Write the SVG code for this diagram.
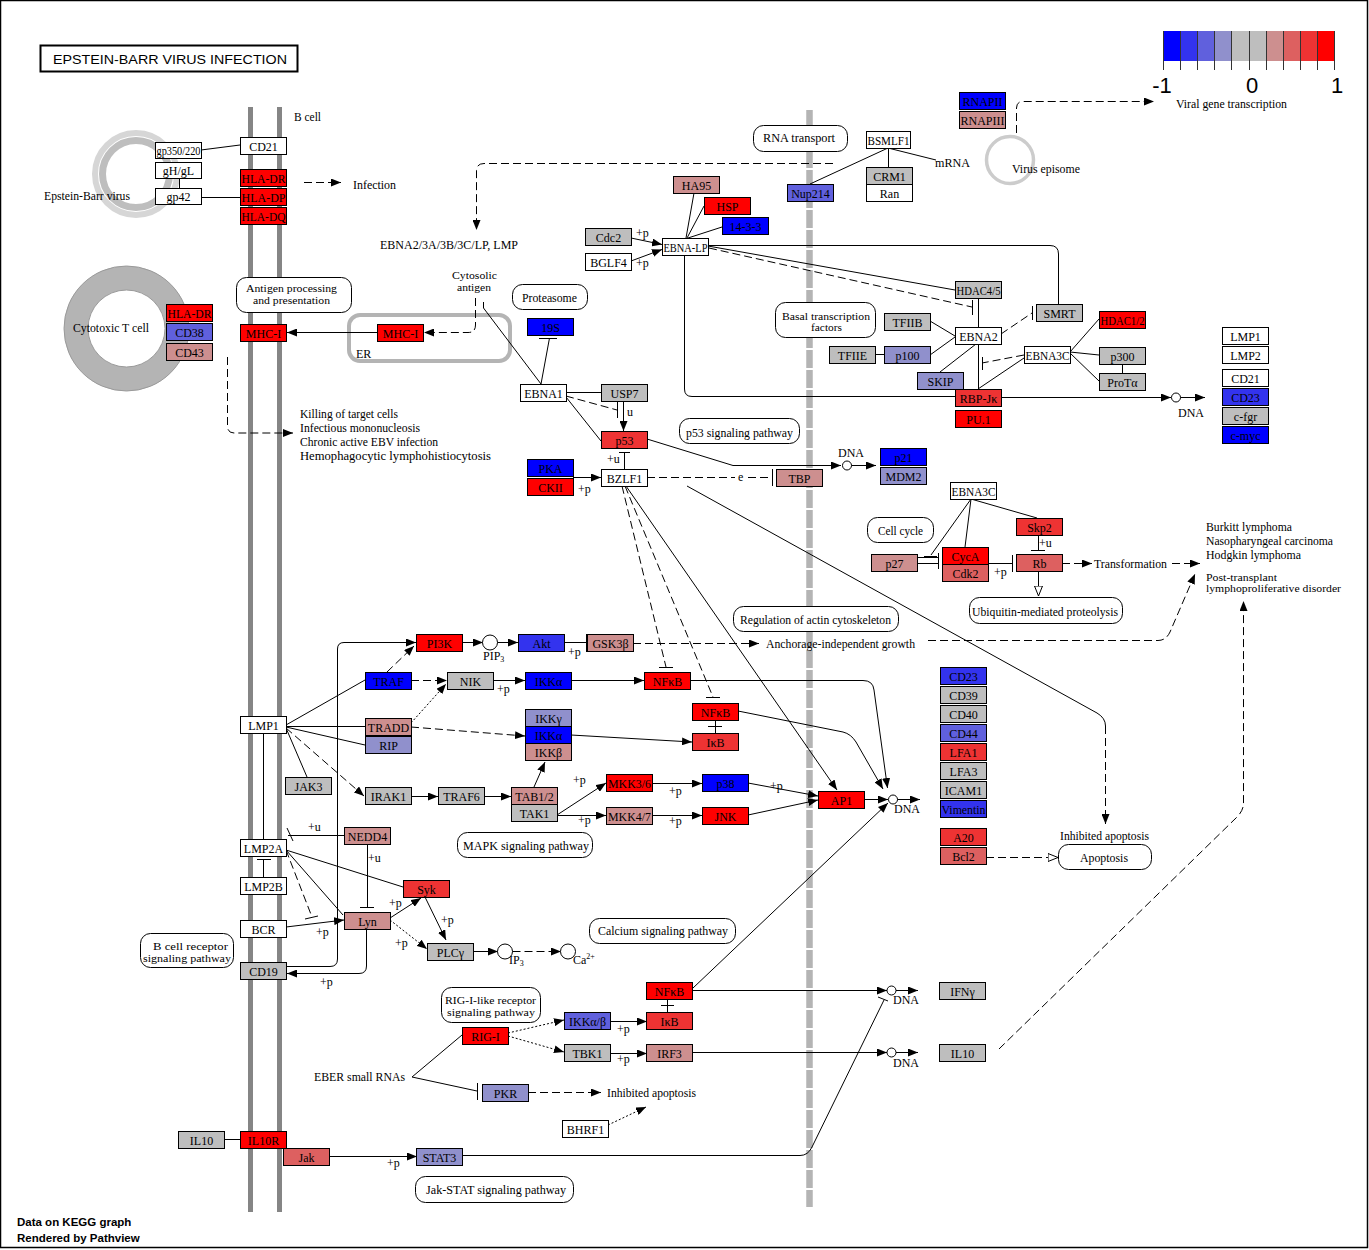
<svg xmlns="http://www.w3.org/2000/svg" width="1369" height="1250" viewBox="0 0 1369 1250">
<defs>
<style>
.nd rect{stroke:#000;stroke-width:1}
.nd text{font-family:"Liberation Serif",serif;font-size:12px;text-anchor:middle;fill:#000}
.w{fill:#fff}.g{fill:#BEBEBE}.b1{fill:#0000FF}.b2{fill:#3333EE}.b3{fill:#6060DD}.b4{fill:#9090CC}.r4{fill:#CD8F8F}.r3{fill:#DD6060}.r2{fill:#EE3333}.r1{fill:#FF0000}
.lb{font-family:"Liberation Serif",serif;font-size:12px;fill:#000}
.sm{font-size:10.5px}
.pw rect{fill:#fff;stroke:#000;stroke-width:1}
.pw text{font-family:"Liberation Serif",serif;font-size:12px;fill:#000}
.pw text.sm{font-size:10.5px}
#connectors path{fill:none;stroke:#000;stroke-width:1}
#connectors .ds{stroke-dasharray:8 4}
#connectors .dt{stroke-dasharray:2 2}
.cir{fill:#fff;stroke:#000;stroke-width:1}
.lg{font-family:"Liberation Sans",Arial,sans-serif;font-size:22px;text-anchor:middle;fill:#000}
.ft{font-family:"Liberation Sans",Arial,sans-serif;font-size:11.5px;font-weight:bold;fill:#000}
</style>
<marker id="a" markerUnits="userSpaceOnUse" viewBox="0 0 10 8" markerWidth="10" markerHeight="8" refX="10" refY="4" orient="auto"><path d="M0,0L10,4L0,8z" fill="#000"/></marker>
<marker id="h" markerUnits="userSpaceOnUse" viewBox="0 0 11 9" markerWidth="11" markerHeight="9" refX="10.5" refY="4.5" orient="auto"><path d="M0.5,0.5L10.5,4.5L0.5,8.5z" fill="#fff" stroke="#000" stroke-width="1"/></marker>
</defs>
<rect x="0" y="0" width="1369" height="1250" fill="#fff"/>
<rect x="0.5" y="0.5" width="1367" height="1247" fill="none" stroke="#000" stroke-width="1.5"/>

<g id="background">
<rect x="40.5" y="45.5" width="257" height="26" fill="#fff" stroke="#000" stroke-width="2"/>
<text x="53" y="64" font-family="Liberation Sans, Arial, sans-serif" font-size="13" textLength="234" lengthAdjust="spacingAndGlyphs">EPSTEIN-BARR  VIRUS  INFECTION</text>
<line x1="250.5" y1="107" x2="250.5" y2="1212" stroke="#858585" stroke-width="5"/>
<line x1="279.5" y1="107" x2="279.5" y2="1212" stroke="#858585" stroke-width="5"/>
<line x1="809.5" y1="110" x2="809.5" y2="1207" stroke="#B4B4B4" stroke-width="6.5" stroke-dasharray="18 2"/>
<circle cx="136" cy="174" r="41" fill="none" stroke="#D6D6D6" stroke-width="6"/>
<circle cx="136" cy="174" r="33.5" fill="none" stroke="#BEBEBE" stroke-width="7"/>
<circle cx="126.5" cy="328.5" r="50.5" fill="none" stroke="#B4B4B4" stroke-width="24"/>
<circle cx="126.5" cy="328.5" r="62.5" fill="none" stroke="#9A9A9A" stroke-width="1"/>
<circle cx="126.5" cy="328.5" r="38.5" fill="none" stroke="#9A9A9A" stroke-width="1"/>
<circle cx="1010" cy="160" r="23.5" fill="none" stroke="#CCCCCC" stroke-width="3.5"/>
<rect x="349" y="315" width="161" height="46" rx="11" fill="none" stroke="#B4B4B4" stroke-width="4"/>
</g>

<g id="legend">
<rect x="1163" y="31" width="17.2" height="30" fill="#0000FF"/>
<rect x="1180.2" y="31" width="17.2" height="30" fill="#3333EE"/>
<rect x="1197.4" y="31" width="17.2" height="30" fill="#6060DD"/>
<rect x="1214.6" y="31" width="17.2" height="30" fill="#9090CC"/>
<rect x="1231.8" y="31" width="17.2" height="30" fill="#BEBEBE"/>
<rect x="1249" y="31" width="17.2" height="30" fill="#BEBEBE"/>
<rect x="1266.2" y="31" width="17.2" height="30" fill="#CD8F8F"/>
<rect x="1283.4" y="31" width="17.2" height="30" fill="#DD6060"/>
<rect x="1300.6" y="31" width="17.2" height="30" fill="#EE3333"/>
<rect x="1317.8" y="31" width="17.2" height="30" fill="#FF0000"/>
<path d="M1163.5 31V70M1180.5 31V70M1197.5 31V70M1214.5 31V70M1231.5 31V70M1249.5 31V70M1266.5 31V70M1283.5 31V70M1300.5 31V70M1317.5 31V70M1334.5 31V70" stroke="#333" stroke-width="1" fill="none"/>
<text class="lg" x="1162" y="93">-1</text>
<text class="lg" x="1252" y="93">0</text>
<text class="lg" x="1337" y="93">1</text>
</g>

<g id="labels">
<text class="lb" x="294" y="121" textLength="27" lengthAdjust="spacingAndGlyphs">B cell</text>
<text class="lb" x="353" y="189" textLength="43" lengthAdjust="spacingAndGlyphs">Infection</text>
<text class="lb" x="44" y="200" textLength="86" lengthAdjust="spacingAndGlyphs">Epstein-Barr virus</text>
<text class="lb" x="73" y="332" textLength="76" lengthAdjust="spacingAndGlyphs">Cytotoxic T cell</text>
<text class="lb" x="356" y="358">ER</text>
<text class="lb" x="300" y="418" textLength="98" lengthAdjust="spacingAndGlyphs">Killing of target cells</text>
<text class="lb" x="300" y="432" textLength="120" lengthAdjust="spacingAndGlyphs">Infectious mononucleosis</text>
<text class="lb" x="300" y="446" textLength="138" lengthAdjust="spacingAndGlyphs">Chronic active EBV infection</text>
<text class="lb" x="300" y="460" textLength="191" lengthAdjust="spacingAndGlyphs">Hemophagocytic lymphohistiocytosis</text>
<text class="lb" x="380" y="249" textLength="138" lengthAdjust="spacingAndGlyphs">EBNA2/3A/3B/3C/LP, LMP</text>
<text class="lb sm" x="452" y="279" textLength="45" lengthAdjust="spacingAndGlyphs">Cytosolic</text>
<text class="lb sm" x="457" y="290.5" textLength="34" lengthAdjust="spacingAndGlyphs">antigen</text>
<text class="lb" x="935" y="167" textLength="35" lengthAdjust="spacingAndGlyphs">mRNA</text>
<text class="lb" x="1012" y="173" textLength="68" lengthAdjust="spacingAndGlyphs">Virus episome</text>
<text class="lb" x="1176" y="108" font-size="11" textLength="111" lengthAdjust="spacingAndGlyphs">Viral gene transcription</text>
<text class="lb" x="838" y="457" textLength="26" lengthAdjust="spacingAndGlyphs">DNA</text>
<text class="lb" x="1178" y="417" textLength="26" lengthAdjust="spacingAndGlyphs">DNA</text>
<text class="lb" x="894" y="813" textLength="26" lengthAdjust="spacingAndGlyphs">DNA</text>
<text class="lb" x="893" y="1004" textLength="26" lengthAdjust="spacingAndGlyphs">DNA</text>
<text class="lb" x="893" y="1067" textLength="26" lengthAdjust="spacingAndGlyphs">DNA</text>
<text class="lb" x="766" y="648" textLength="149" lengthAdjust="spacingAndGlyphs">Anchorage-independent growth</text>
<text class="lb" x="1094" y="568" textLength="73" lengthAdjust="spacingAndGlyphs">Transformation</text>
<text class="lb" x="1206" y="531" textLength="86" lengthAdjust="spacingAndGlyphs">Burkitt lymphoma</text>
<text class="lb" x="1206" y="545" textLength="127" lengthAdjust="spacingAndGlyphs">Nasopharyngeal carcinoma</text>
<text class="lb" x="1206" y="559" textLength="95" lengthAdjust="spacingAndGlyphs">Hodgkin lymphoma</text>
<text class="lb sm" x="1206" y="580.5" textLength="71" lengthAdjust="spacingAndGlyphs">Post-transplant</text>
<text class="lb sm" x="1206" y="592" textLength="135" lengthAdjust="spacingAndGlyphs">lymphoproliferative disorder</text>
<text class="lb" x="1060" y="840" textLength="89" lengthAdjust="spacingAndGlyphs">Inhibited apoptosis</text>
<text class="lb" x="314" y="1081" textLength="91" lengthAdjust="spacingAndGlyphs">EBER small RNAs</text>
<text class="lb" x="607" y="1097" textLength="89" lengthAdjust="spacingAndGlyphs">Inhibited apoptosis</text>
<text class="lb" x="483" y="660">PIP<tspan font-size="8" dy="2">3</tspan></text>
<text class="lb" x="509" y="964">IP<tspan font-size="8" dy="2">3</tspan></text>
<text class="lb" x="573" y="964">Ca<tspan font-size="8" dy="-5">2+</tspan></text>
<text class="ft" x="17" y="1226">Data on KEGG graph</text>
<text class="ft" x="17" y="1242">Rendered by Pathview</text>
</g>

<g id="pathways" class="pw">
<g id="p_antigen"><rect x="236.5" y="277.5" width="115" height="35" rx="10"/><text class="sm" x="246" y="292" textLength="91" lengthAdjust="spacingAndGlyphs">Antigen processing</text><text class="sm" x="253" y="304" textLength="77" lengthAdjust="spacingAndGlyphs">and presentation</text></g>
<g id="p_proteasome"><rect x="512.5" y="284.5" width="75" height="25" rx="10"/><text x="522" y="302" textLength="55" lengthAdjust="spacingAndGlyphs">Proteasome</text></g>
<g id="p_rna"><rect x="753.5" y="125.5" width="94" height="26" rx="10"/><text x="763" y="142" textLength="72" lengthAdjust="spacingAndGlyphs">RNA transport</text></g>
<g id="p_basal"><rect x="775.5" y="302.5" width="100" height="35" rx="10"/><text class="sm" x="782" y="319.5" textLength="88" lengthAdjust="spacingAndGlyphs">Basal transcription</text><text class="sm" x="811" y="331" textLength="31" lengthAdjust="spacingAndGlyphs">factors</text></g>
<g id="p_p53"><rect x="679.5" y="418.5" width="120" height="25" rx="10"/><text x="686" y="436.5" textLength="107" lengthAdjust="spacingAndGlyphs">p53 signaling pathway</text></g>
<g id="p_cellcycle"><rect x="867.5" y="517.5" width="66" height="25" rx="10"/><text x="878" y="535" textLength="45" lengthAdjust="spacingAndGlyphs">Cell cycle</text></g>
<g id="p_ubiq"><rect x="969.5" y="597.5" width="153" height="26" rx="10"/><text x="972" y="616" textLength="146" lengthAdjust="spacingAndGlyphs">Ubiquitin-mediated proteolysis</text></g>
<g id="p_actin"><rect x="733.5" y="606.5" width="165" height="25" rx="10"/><text x="740" y="623.5" textLength="151" lengthAdjust="spacingAndGlyphs">Regulation of actin cytoskeleton</text></g>
<g id="p_mapk"><rect x="457.5" y="832.5" width="135" height="25" rx="10"/><text x="463" y="849.5" textLength="126" lengthAdjust="spacingAndGlyphs">MAPK signaling pathway</text></g>
<g id="p_calcium"><rect x="589.5" y="918.5" width="146" height="25" rx="10"/><text x="598" y="935" textLength="130" lengthAdjust="spacingAndGlyphs">Calcium signaling pathway</text></g>
<g id="p_bcr"><rect x="140.5" y="933.5" width="93" height="34" rx="10"/><text class="sm" x="153" y="949.5" textLength="75" lengthAdjust="spacingAndGlyphs">B cell receptor</text><text class="sm" x="143" y="961.5" textLength="88" lengthAdjust="spacingAndGlyphs">signaling pathway</text></g>
<g id="p_rig"><rect x="441.5" y="987.5" width="99" height="35" rx="10"/><text class="sm" x="445" y="1003.5" textLength="91" lengthAdjust="spacingAndGlyphs">RIG-I-like receptor</text><text class="sm" x="447" y="1015.5" textLength="88" lengthAdjust="spacingAndGlyphs">signaling pathway</text></g>
<g id="p_jakstat"><rect x="415.5" y="1176.5" width="158" height="26" rx="10"/><text x="426" y="1194" textLength="140" lengthAdjust="spacingAndGlyphs">Jak-STAT signaling pathway</text></g>
<g id="p_apoptosis"><rect x="1058.5" y="844.5" width="93" height="25" rx="10"/><text x="1080" y="862" textLength="48" lengthAdjust="spacingAndGlyphs">Apoptosis</text></g>
</g>

<g id="connectors">
<path d="M201 150L240 145"/>
<path d="M179.5 178V188"/>
<path d="M201 197.5H240"/>
<path class="ds" d="M304 182.5H341" marker-end="url(#a)"/>
<path class="ds" d="M227.5 357V426Q227.5 433 234 433H293" marker-end="url(#a)"/>
<path d="M377 332.5H287" marker-end="url(#a)"/>
<path class="ds" d="M475.5 298V325Q475.5 332.5 468 332.5H424" marker-end="url(#a)"/>
<path d="M483.5 302V308L541 384"/>
<path class="ds" d="M833 163.5H484Q476.5 163.5 476.5 171V230" marker-end="url(#a)"/>
<path d="M888.5 148V167"/>
<path d="M888 148L810 184"/>
<path d="M888 148L936 160"/>
<path class="ds" d="M1016.5 133V108Q1016.5 101.5 1023 101.5H1154" marker-end="url(#a)"/>
<path d="M694 193L686 238"/>
<path d="M704 206L687 238"/>
<path d="M722 227L688 238"/>
<path d="M631 238L662 244.5" marker-end="url(#a)"/>
<path d="M631 261L662 249.5" marker-end="url(#a)"/>
<path d="M708 245.5H1050Q1058.5 245.5 1058.5 254V304"/>
<path d="M708 246L955 290"/>
<path class="ds" d="M709 248L972 307"/>
<path d="M972.5 300V315"/>
<path d="M684.5 255V389Q684.5 396.5 692 396.5H955"/>
<path d="M541 384L549.5 338"/>
<path d="M539 338.5H557"/>
<path d="M566 392.5H601"/>
<path class="ds" d="M566 396L617 410"/>
<path d="M617.5 401V418"/>
<path d="M623.5 401V431" marker-end="url(#a)"/>
<path d="M566 397L601 441"/>
<path d="M647 439L733 465.5H841" marker-end="url(#a)"/>
<circle class="cir" cx="847" cy="465.5" r="4.5"/>
<path d="M851.5 465.5H876" marker-end="url(#a)"/>
<path d="M624.5 469V452"/>
<path d="M619 452.5H630"/>
<path d="M573 477.5H601" marker-end="url(#a)"/>
<path class="ds" d="M647 477.5H735"/>
<path class="ds" d="M748 477.5H772"/>
<path d="M772.5 469V486"/>
<path d="M687 486L1097 713Q1105.5 718 1105.5 726"/>
<path class="ds" d="M1105.5 726V824" marker-end="url(#a)"/>
<path d="M978.5 298V327"/>
<path d="M930 321L955 336"/>
<path d="M875 354.5H884"/>
<path d="M930 355L955 337"/>
<path d="M940 372L976 344"/>
<path d="M978.5 344V389"/>
<path class="ds" d="M1024 355L982 363"/>
<path d="M982.5 357V370"/>
<path class="ds" d="M1001 334L1032 313"/>
<path d="M1032.5 306V320"/>
<path d="M1024 358L978 389"/>
<path d="M1070 352L1099 319"/>
<path d="M1070 352L1099 355"/>
<path d="M1070 353L1099 381"/>
<path d="M1122.5 364V373"/>
<path d="M1001 397.5H1171" marker-end="url(#a)"/>
<circle class="cir" cx="1176" cy="397.5" r="4.5"/>
<path d="M1180.5 397.5H1205" marker-end="url(#a)"/>
<path d="M971 499L965 547"/>
<path d="M971 499L1037 518"/>
<path d="M971 499L931 555"/>
<path d="M924 556.5H937"/>
<path d="M917 557.5H938M917 563.5H938"/>
<path d="M938.5 553V569"/>
<path d="M1038.5 535V550"/>
<path d="M1031 550.5H1045"/>
<path d="M988 563.5H1012"/>
<path d="M1012.5 555V572"/>
<path class="ds" d="M1062 563.5H1092" marker-end="url(#a)"/>
<path class="ds" d="M1172 563.5H1200" marker-end="url(#a)"/>
<path d="M1038.5 571V596" marker-end="url(#h)"/>
<path class="ds" d="M633 643.5H759" marker-end="url(#a)"/>
<path class="ds" d="M928 640.5H1158Q1166 640.5 1170 632L1195 574" marker-end="url(#a)"/>
<path class="ds" d="M999 1049L1236 818Q1243.5 811 1243.5 803V601" marker-end="url(#a)"/>
<path d="M462 642.5H483" marker-end="url(#a)"/>
<circle class="cir" cx="490" cy="642.5" r="7.5"/>
<path d="M497.5 642.5H518" marker-end="url(#a)"/>
<path d="M564 642.5H586"/>
<path d="M586.5 634V652"/>
<path class="ds" d="M387 672L414 646" marker-end="url(#a)"/>
<path d="M286 966.5H330Q337.5 966.5 337.5 959V649Q337.5 642.5 344 642.5H416" marker-end="url(#a)"/>
<path d="M366.5 929V966Q366.5 973.5 359 973.5H287" marker-end="url(#a)"/>
<path d="M286 725L365 680"/>
<path d="M286 726.5H365"/>
<path d="M286 727L365 745"/>
<path d="M286 728L307 777"/>
<path class="ds" d="M286 728L364 796" marker-end="url(#a)"/>
<path d="M263.5 733V839"/>
<path class="ds" d="M411 680.5H447" marker-end="url(#a)"/>
<path class="dt" d="M411 723L446 684" marker-end="url(#a)"/>
<path class="ds" d="M411 727L525 736" marker-end="url(#a)"/>
<path d="M493 680.5H525" marker-end="url(#a)"/>
<path d="M571 680.5H644" marker-end="url(#a)"/>
<path d="M690 680.5H863Q873 680.5 874 690L887.5 788" marker-end="url(#a)"/>
<path class="ds" d="M622 486L666 667"/>
<path d="M659 667.5H673"/>
<path class="ds" d="M625 486L713 697"/>
<path d="M706 697.5H720"/>
<path d="M626 486L837 790" marker-end="url(#a)"/>
<path d="M715.5 720V733"/>
<path d="M708 726.5H722"/>
<path d="M571 735L692 742" marker-end="url(#a)"/>
<path d="M738 711L843 732Q851 734 856 742L883 789" marker-end="url(#a)"/>
<path d="M411 796.5H438" marker-end="url(#a)"/>
<path d="M484 796.5H511" marker-end="url(#a)"/>
<path d="M534 787L545 762" marker-end="url(#a)"/>
<path d="M557 815L606 783" marker-end="url(#a)"/>
<path d="M557 815.5H606" marker-end="url(#a)"/>
<path d="M652 783.5H702" marker-end="url(#a)"/>
<path d="M652 815.5H702" marker-end="url(#a)"/>
<path d="M748 783L818 796" marker-end="url(#a)"/>
<path d="M748 815L818 800" marker-end="url(#a)"/>
<path d="M864 799.5H888" marker-end="url(#a)"/>
<circle class="cir" cx="893" cy="799.5" r="4.5"/>
<path d="M897.5 799.5H920" marker-end="url(#a)"/>
<path d="M693 988L888 803" marker-end="url(#a)"/>
<path d="M263.5 877V859"/>
<path d="M257 859.5H271"/>
<path d="M344 835.5H288"/>
<path d="M287 828L293 841"/>
<path d="M367.5 844V907"/>
<path d="M360 907.5H374"/>
<path class="ds" d="M286 850L312 917"/>
<path d="M305 919L318 916"/>
<path d="M286 850L343 915"/>
<path d="M286 927L344 920" marker-end="url(#a)"/>
<path d="M286 850L403 887"/>
<path d="M390 918L421 898" marker-end="url(#a)"/>
<path d="M425 897L446 940" marker-end="url(#a)"/>
<path class="dt" d="M390 920L427 949" marker-end="url(#a)"/>
<path d="M473 951.5H498" marker-end="url(#a)"/>
<circle class="cir" cx="505" cy="951.5" r="7.5"/>
<path class="ds" d="M512.5 951.5H561" marker-end="url(#a)"/>
<circle class="cir" cx="568" cy="951.5" r="7.5"/>
<path class="dt" d="M508 1033L564 1020" marker-end="url(#a)"/>
<path class="dt" d="M508 1036L564 1052" marker-end="url(#a)"/>
<path d="M610 1021.5H647" marker-end="url(#a)"/>
<path d="M610 1053.5H647" marker-end="url(#a)"/>
<path d="M667.5 998V1012"/>
<path d="M661 1005.5H674"/>
<path d="M692 990.5H887" marker-end="url(#a)"/>
<circle class="cir" cx="891.5" cy="990.5" r="4.5"/>
<path d="M896 990.5H918" marker-end="url(#a)"/>
<path d="M692 1052.5H887" marker-end="url(#a)"/>
<circle class="cir" cx="891.5" cy="1052.5" r="4.5"/>
<path d="M896 1052.5H918" marker-end="url(#a)"/>
<path d="M412 1077L462 1035"/>
<path d="M412 1077L477 1091"/>
<path d="M477.5 1083V1100"/>
<path class="ds" d="M528 1092.5H601" marker-end="url(#a)"/>
<path class="dt" d="M608 1125L646 1107" marker-end="url(#a)"/>
<path d="M224 1139.5H240"/>
<path d="M329 1156.5H417" marker-end="url(#a)"/>
<path d="M462 1155.5H800Q808 1155.5 812 1147L884 1000"/>
<path d="M878 997L888 1001"/>
<path class="ds" d="M986 857.5H1058" marker-end="url(#h)"/>
<g class="lb">
<text x="636" y="237">+p</text>
<text x="636" y="267">+p</text>
<text x="627" y="416">u</text>
<text x="607" y="463">+u</text>
<text x="578" y="493">+p</text>
<text x="738" y="481">e</text>
<text x="1039" y="547">+u</text>
<text x="994" y="576">+p</text>
<text x="568" y="656">+p</text>
<text x="497" y="693">+p</text>
<text x="308" y="831">+u</text>
<text x="368" y="862">+u</text>
<text x="573" y="784">+p</text>
<text x="578" y="824">+p</text>
<text x="669" y="795">+p</text>
<text x="669" y="825">+p</text>
<text x="770" y="790">+p</text>
<text x="316" y="936">+p</text>
<text x="389" y="907">+p</text>
<text x="441" y="924">+p</text>
<text x="395" y="947">+p</text>
<text x="320" y="986">+p</text>
<text x="617" y="1033">+p</text>
<text x="617" y="1063">+p</text>
<text x="387" y="1167">+p</text>
</g>
</g>

<g id="nodes" class="nd">
<g id="n_gp350"><rect x="155.5" y="142.5" width="46" height="16" class="w"/><text x="178.5" y="155" textLength="44" lengthAdjust="spacingAndGlyphs">gp350/220</text></g>
<g id="n_gHgL"><rect x="155.5" y="162.5" width="46" height="16" class="w"/><text x="178.5" y="175">gH/gL</text></g>
<g id="n_gp42"><rect x="155.5" y="188.5" width="46" height="16" class="w"/><text x="178.5" y="201">gp42</text></g>
<g id="n_CD21_a"><rect x="240.5" y="137.5" width="46" height="17" class="w"/><text x="263.5" y="150.5">CD21</text></g>
<g id="n_HLA-DR_a"><rect x="240.5" y="169.5" width="46" height="17" class="r1"/><text x="263.5" y="182.5" textLength="44" lengthAdjust="spacingAndGlyphs">HLA-DR</text></g>
<g id="n_HLA-DP"><rect x="240.5" y="188.5" width="46" height="17" class="r1"/><text x="263.5" y="201.5" textLength="44" lengthAdjust="spacingAndGlyphs">HLA-DP</text></g>
<g id="n_HLA-DQ"><rect x="240.5" y="207.5" width="46" height="17" class="r1"/><text x="263.5" y="220.5" textLength="44" lengthAdjust="spacingAndGlyphs">HLA-DQ</text></g>
<g id="n_HLA-DR_b"><rect x="166.5" y="304.5" width="46" height="17" class="r1"/><text x="189.5" y="317.5" textLength="44" lengthAdjust="spacingAndGlyphs">HLA-DR</text></g>
<g id="n_CD38"><rect x="166.5" y="323.5" width="46" height="17" class="b3"/><text x="189.5" y="336.5">CD38</text></g>
<g id="n_CD43"><rect x="166.5" y="343.5" width="46" height="17" class="r4"/><text x="189.5" y="356.5">CD43</text></g>
<g id="n_MHC-I_a"><rect x="240.5" y="324.5" width="46" height="17" class="r1"/><text x="263.5" y="337.5">MHC-I</text></g>
<g id="n_MHC-I_b"><rect x="377.5" y="324.5" width="46" height="17" class="r1"/><text x="400.5" y="337.5">MHC-I</text></g>
<g id="n_RNAPII"><rect x="959.5" y="92.5" width="46" height="17" class="b1"/><text x="982.5" y="105.5">RNAPII</text></g>
<g id="n_RNAPIII"><rect x="959.5" y="111.5" width="46" height="17" class="r4"/><text x="982.5" y="124.5" textLength="44" lengthAdjust="spacingAndGlyphs">RNAPIII</text></g>
<g id="n_BSMLF1"><rect x="866.5" y="131.5" width="44" height="17" class="w"/><text x="888.5" y="144.5" textLength="42" lengthAdjust="spacingAndGlyphs">BSMLF1</text></g>
<g id="n_CRM1"><rect x="866.5" y="167.5" width="46" height="17" class="g"/><text x="889.5" y="180.5">CRM1</text></g>
<g id="n_Ran"><rect x="866.5" y="184.5" width="46" height="17" class="w"/><text x="889.5" y="197.5">Ran</text></g>
<g id="n_Nup214"><rect x="787.5" y="184.5" width="46" height="17" class="b3"/><text x="810.5" y="197.5">Nup214</text></g>
<g id="n_HA95"><rect x="673.5" y="176.5" width="46" height="17" class="r4"/><text x="696.5" y="189.5">HA95</text></g>
<g id="n_HSP"><rect x="704.5" y="197.5" width="46" height="17" class="r1"/><text x="727.5" y="210.5">HSP</text></g>
<g id="n_14-3-3"><rect x="722.5" y="217.5" width="46" height="17" class="b1"/><text x="745.5" y="230.5">14-3-3</text></g>
<g id="n_Cdc2"><rect x="585.5" y="228.5" width="46" height="17" class="g"/><text x="608.5" y="241.5">Cdc2</text></g>
<g id="n_BGLF4"><rect x="585.5" y="253.5" width="46" height="17" class="w"/><text x="608.5" y="266.5">BGLF4</text></g>
<g id="n_EBNA-LP"><rect x="662.5" y="238.5" width="46" height="17" class="w"/><text x="685.5" y="251.5" textLength="44" lengthAdjust="spacingAndGlyphs">EBNA-LP</text></g>
<g id="n_19S"><rect x="527.5" y="318.5" width="46" height="17" class="b1"/><text x="550.5" y="331.5">19S</text></g>
<g id="n_EBNA1"><rect x="520.5" y="384.5" width="46" height="17" class="w"/><text x="543.5" y="397.5">EBNA1</text></g>
<g id="n_USP7"><rect x="601.5" y="384.5" width="46" height="17" class="g"/><text x="624.5" y="397.5">USP7</text></g>
<g id="n_p53"><rect x="601.5" y="431.5" width="46" height="17" class="r2"/><text x="624.5" y="444.5">p53</text></g>
<g id="n_PKA"><rect x="527.5" y="459.5" width="46" height="17" class="b1"/><text x="550.5" y="472.5">PKA</text></g>
<g id="n_CKII"><rect x="527.5" y="478.5" width="46" height="17" class="r1"/><text x="550.5" y="491.5">CKII</text></g>
<g id="n_BZLF1"><rect x="601.5" y="469.5" width="46" height="17" class="w"/><text x="624.5" y="482.5">BZLF1</text></g>
<g id="n_TBP"><rect x="776.5" y="469.5" width="46" height="17" class="r4"/><text x="799.5" y="482.5">TBP</text></g>
<g id="n_p21"><rect x="880.5" y="448.5" width="46" height="17" class="b1"/><text x="903.5" y="461.5">p21</text></g>
<g id="n_MDM2"><rect x="880.5" y="467.5" width="46" height="17" class="b4"/><text x="903.5" y="480.5">MDM2</text></g>
<g id="n_HDAC45"><rect x="955.5" y="281.5" width="46" height="17" class="g"/><text x="978.5" y="294.5" textLength="44" lengthAdjust="spacingAndGlyphs">HDAC4/5</text></g>
<g id="n_TFIIB"><rect x="884.5" y="313.5" width="46" height="17" class="g"/><text x="907.5" y="326.5">TFIIB</text></g>
<g id="n_TFIIE"><rect x="829.5" y="346.5" width="46" height="17" class="g"/><text x="852.5" y="359.5">TFIIE</text></g>
<g id="n_p100"><rect x="884.5" y="346.5" width="46" height="17" class="b4"/><text x="907.5" y="359.5">p100</text></g>
<g id="n_EBNA2"><rect x="955.5" y="327.5" width="46" height="17" class="w"/><text x="978.5" y="340.5">EBNA2</text></g>
<g id="n_SKIP"><rect x="917.5" y="372.5" width="46" height="17" class="b4"/><text x="940.5" y="385.5">SKIP</text></g>
<g id="n_RBPJk"><rect x="955.5" y="389.5" width="46" height="17" class="r2"/><text x="978.5" y="402.5">RBP-Jκ</text></g>
<g id="n_PU1"><rect x="955.5" y="410.5" width="46" height="17" class="r1"/><text x="978.5" y="423.5">PU.1</text></g>
<g id="n_SMRT"><rect x="1036.5" y="304.5" width="46" height="17" class="g"/><text x="1059.5" y="317.5">SMRT</text></g>
<g id="n_EBNA3C_a"><rect x="1024.5" y="346.5" width="46" height="17" class="w"/><text x="1047.5" y="359.5" textLength="44" lengthAdjust="spacingAndGlyphs">EBNA3C</text></g>
<g id="n_HDAC12"><rect x="1099.5" y="311.5" width="46" height="17" class="r1"/><text x="1122.5" y="324.5" textLength="44" lengthAdjust="spacingAndGlyphs">HDAC1/2</text></g>
<g id="n_p300"><rect x="1099.5" y="347.5" width="46" height="17" class="g"/><text x="1122.5" y="360.5">p300</text></g>
<g id="n_ProTa"><rect x="1099.5" y="373.5" width="46" height="17" class="g"/><text x="1122.5" y="386.5">ProTα</text></g>
<g id="n_LMP1_b"><rect x="1222.5" y="327.5" width="46" height="17" class="w"/><text x="1245.5" y="340.5">LMP1</text></g>
<g id="n_LMP2"><rect x="1222.5" y="346.5" width="46" height="17" class="w"/><text x="1245.5" y="359.5">LMP2</text></g>
<g id="n_CD21_b"><rect x="1222.5" y="369.5" width="46" height="17" class="w"/><text x="1245.5" y="382.5">CD21</text></g>
<g id="n_CD23_a"><rect x="1222.5" y="388.5" width="46" height="17" class="b2"/><text x="1245.5" y="401.5">CD23</text></g>
<g id="n_c-fgr"><rect x="1222.5" y="407.5" width="46" height="17" class="g"/><text x="1245.5" y="420.5">c-fgr</text></g>
<g id="n_c-myc"><rect x="1222.5" y="426.5" width="46" height="17" class="b1"/><text x="1245.5" y="439.5">c-myc</text></g>
<g id="n_EBNA3C_b"><rect x="950.5" y="482.5" width="46" height="17" class="w"/><text x="973.5" y="495.5" textLength="44" lengthAdjust="spacingAndGlyphs">EBNA3C</text></g>
<g id="n_p27"><rect x="871.5" y="554.5" width="46" height="17" class="r4"/><text x="894.5" y="567.5">p27</text></g>
<g id="n_CycA"><rect x="942.5" y="547.5" width="46" height="17" class="r1"/><text x="965.5" y="560.5">CycA</text></g>
<g id="n_Cdk2"><rect x="942.5" y="564.5" width="46" height="17" class="r3"/><text x="965.5" y="577.5">Cdk2</text></g>
<g id="n_Skp2"><rect x="1016.5" y="518.5" width="46" height="17" class="r2"/><text x="1039.5" y="531.5">Skp2</text></g>
<g id="n_Rb"><rect x="1016.5" y="554.5" width="46" height="17" class="r3"/><text x="1039.5" y="567.5">Rb</text></g>
<g id="n_PI3K"><rect x="416.5" y="634.5" width="46" height="17" class="r1"/><text x="439.5" y="647.5">PI3K</text></g>
<g id="n_Akt"><rect x="518.5" y="634.5" width="46" height="17" class="b2"/><text x="541.5" y="647.5">Akt</text></g>
<g id="n_GSK3b"><rect x="587.5" y="634.5" width="46" height="17" class="r4"/><text x="610.5" y="647.5">GSK3β</text></g>
<g id="n_TRAF"><rect x="365.5" y="672.5" width="46" height="17" class="b1"/><text x="388.5" y="685.5">TRAF</text></g>
<g id="n_NIK"><rect x="447.5" y="672.5" width="46" height="17" class="g"/><text x="470.5" y="685.5">NIK</text></g>
<g id="n_IKKa_a"><rect x="525.5" y="672.5" width="46" height="17" class="b1"/><text x="548.5" y="685.5">IKKα</text></g>
<g id="n_NFkB_a"><rect x="644.5" y="672.5" width="46" height="17" class="r1"/><text x="667.5" y="685.5">NFκB</text></g>
<g id="n_NFkB_b"><rect x="692.5" y="703.5" width="46" height="17" class="r1"/><text x="715.5" y="716.5">NFκB</text></g>
<g id="n_IkB_b"><rect x="692.5" y="733.5" width="46" height="17" class="r2"/><text x="715.5" y="746.5">IκB</text></g>
<g id="n_LMP1_a"><rect x="240.5" y="716.5" width="46" height="17" class="w"/><text x="263.5" y="729.5">LMP1</text></g>
<g id="n_TRADD"><rect x="365.5" y="718.5" width="46" height="17" class="r4"/><text x="388.5" y="731.5">TRADD</text></g>
<g id="n_RIP"><rect x="365.5" y="736.5" width="46" height="17" class="b4"/><text x="388.5" y="749.5">RIP</text></g>
<g id="n_IKKg"><rect x="525.5" y="709.5" width="46" height="17" class="b4"/><text x="548.5" y="722.5">IKKγ</text></g>
<g id="n_IKKa_b"><rect x="525.5" y="726.5" width="46" height="17" class="b1"/><text x="548.5" y="739.5">IKKα</text></g>
<g id="n_IKKb"><rect x="525.5" y="743.5" width="46" height="17" class="r4"/><text x="548.5" y="756.5">IKKβ</text></g>
<g id="n_JAK3"><rect x="285.5" y="777.5" width="46" height="17" class="g"/><text x="308.5" y="790.5">JAK3</text></g>
<g id="n_IRAK1"><rect x="365.5" y="787.5" width="46" height="17" class="g"/><text x="388.5" y="800.5">IRAK1</text></g>
<g id="n_TRAF6"><rect x="438.5" y="787.5" width="46" height="17" class="g"/><text x="461.5" y="800.5">TRAF6</text></g>
<g id="n_TAB12"><rect x="511.5" y="787.5" width="46" height="17" class="r4"/><text x="534.5" y="800.5">TAB1/2</text></g>
<g id="n_TAK1"><rect x="511.5" y="804.5" width="46" height="17" class="g"/><text x="534.5" y="817.5">TAK1</text></g>
<g id="n_MKK36"><rect x="606.5" y="774.5" width="46" height="17" class="r1"/><text x="629.5" y="787.5" textLength="43" lengthAdjust="spacingAndGlyphs">MKK3/6</text></g>
<g id="n_MKK47"><rect x="606.5" y="807.5" width="46" height="17" class="r4"/><text x="629.5" y="820.5" textLength="43" lengthAdjust="spacingAndGlyphs">MKK4/7</text></g>
<g id="n_p38"><rect x="702.5" y="774.5" width="46" height="17" class="b1"/><text x="725.5" y="787.5">p38</text></g>
<g id="n_JNK"><rect x="702.5" y="807.5" width="46" height="17" class="r1"/><text x="725.5" y="820.5">JNK</text></g>
<g id="n_AP1"><rect x="818.5" y="791.5" width="46" height="17" class="r1"/><text x="841.5" y="804.5">AP1</text></g>
<g id="n_CD23_b"><rect x="940.5" y="667.5" width="46" height="17" class="b2"/><text x="963.5" y="680.5">CD23</text></g>
<g id="n_CD39"><rect x="940.5" y="686.5" width="46" height="17" class="g"/><text x="963.5" y="699.5">CD39</text></g>
<g id="n_CD40"><rect x="940.5" y="705.5" width="46" height="17" class="g"/><text x="963.5" y="718.5">CD40</text></g>
<g id="n_CD44"><rect x="940.5" y="724.5" width="46" height="17" class="b3"/><text x="963.5" y="737.5">CD44</text></g>
<g id="n_LFA1"><rect x="940.5" y="743.5" width="46" height="17" class="r2"/><text x="963.5" y="756.5">LFA1</text></g>
<g id="n_LFA3"><rect x="940.5" y="762.5" width="46" height="17" class="g"/><text x="963.5" y="775.5">LFA3</text></g>
<g id="n_ICAM1"><rect x="940.5" y="781.5" width="46" height="17" class="g"/><text x="963.5" y="794.5">ICAM1</text></g>
<g id="n_Vimentin"><rect x="940.5" y="800.5" width="46" height="17" class="b2"/><text x="963.5" y="813.5" textLength="44" lengthAdjust="spacingAndGlyphs">Vimentin</text></g>
<g id="n_A20"><rect x="940.5" y="828.5" width="46" height="17" class="r2"/><text x="963.5" y="841.5">A20</text></g>
<g id="n_Bcl2"><rect x="940.5" y="847.5" width="46" height="17" class="r3"/><text x="963.5" y="860.5">Bcl2</text></g>
<g id="n_LMP2A"><rect x="240.5" y="839.5" width="46" height="17" class="w"/><text x="263.5" y="852.5">LMP2A</text></g>
<g id="n_LMP2B"><rect x="240.5" y="877.5" width="46" height="17" class="w"/><text x="263.5" y="890.5">LMP2B</text></g>
<g id="n_BCR"><rect x="240.5" y="920.5" width="46" height="17" class="w"/><text x="263.5" y="933.5">BCR</text></g>
<g id="n_CD19"><rect x="240.5" y="962.5" width="46" height="17" class="g"/><text x="263.5" y="975.5">CD19</text></g>
<g id="n_NEDD4"><rect x="344.5" y="827.5" width="46" height="17" class="r4"/><text x="367.5" y="840.5">NEDD4</text></g>
<g id="n_Syk"><rect x="403.5" y="880.5" width="46" height="17" class="r2"/><text x="426.5" y="893.5">Syk</text></g>
<g id="n_Lyn"><rect x="344.5" y="912.5" width="46" height="17" class="r4"/><text x="367.5" y="925.5">Lyn</text></g>
<g id="n_PLCg"><rect x="427.5" y="943.5" width="46" height="17" class="g"/><text x="450.5" y="956.5">PLCγ</text></g>
<g id="n_NFkB_c"><rect x="646.5" y="982.5" width="46" height="17" class="r1"/><text x="669.5" y="995.5">NFκB</text></g>
<g id="n_IkB_c"><rect x="646.5" y="1012.5" width="46" height="17" class="r2"/><text x="669.5" y="1025.5">IκB</text></g>
<g id="n_IRF3"><rect x="646.5" y="1044.5" width="46" height="17" class="r4"/><text x="669.5" y="1057.5">IRF3</text></g>
<g id="n_RIG-I"><rect x="462.5" y="1027.5" width="46" height="17" class="r1"/><text x="485.5" y="1040.5">RIG-I</text></g>
<g id="n_IKKab"><rect x="564.5" y="1012.5" width="46" height="17" class="b3"/><text x="587.5" y="1025.5">IKKα/β</text></g>
<g id="n_TBK1"><rect x="564.5" y="1044.5" width="46" height="17" class="g"/><text x="587.5" y="1057.5">TBK1</text></g>
<g id="n_PKR"><rect x="482.5" y="1084.5" width="46" height="17" class="b4"/><text x="505.5" y="1097.5">PKR</text></g>
<g id="n_BHRF1"><rect x="562.5" y="1120.5" width="46" height="17" class="w"/><text x="585.5" y="1133.5">BHRF1</text></g>
<g id="n_IL10_a"><rect x="178.5" y="1131.5" width="46" height="17" class="g"/><text x="201.5" y="1144.5">IL10</text></g>
<g id="n_IL10R"><rect x="240.5" y="1131.5" width="46" height="17" class="r1"/><text x="263.5" y="1144.5">IL10R</text></g>
<g id="n_Jak"><rect x="283.5" y="1148.5" width="46" height="17" class="r3"/><text x="306.5" y="1161.5">Jak</text></g>
<g id="n_STAT3"><rect x="416.5" y="1148.5" width="46" height="17" class="b4"/><text x="439.5" y="1161.5">STAT3</text></g>
<g id="n_IFNg"><rect x="939.5" y="982.5" width="46" height="17" class="g"/><text x="962.5" y="995.5">IFNγ</text></g>
<g id="n_IL10_b"><rect x="939.5" y="1044.5" width="46" height="17" class="g"/><text x="962.5" y="1057.5">IL10</text></g>
</g>
</svg>
